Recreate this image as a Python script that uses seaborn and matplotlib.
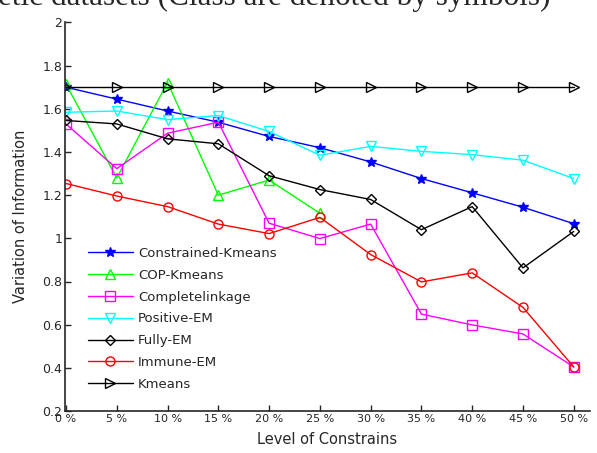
import matplotlib
matplotlib.use("Agg")
import matplotlib.pyplot as plt
import seaborn as sns
import pandas as pd

levels = [0, 5, 10, 15, 20, 25, 30, 35, 40, 45, 50]
x_labels = ["0 %", "5 %", "10 %", "15 %", "20 %", "25 %", "30 %", "35 %", "40 %", "45 %", "50 %"]

constrained_kmeans = [1.70, 1.645, 1.59, 1.538, 1.472, 1.42, 1.354, 1.277, 1.211, 1.144, 1.068]
cop_kmeans = [1.714, 1.28, 1.722, 1.20, 1.27, 1.116]
complete_linkage = [1.53, 1.323, 1.487, 1.538, 1.07, 0.999, 1.066, 0.649, 0.599, 0.557, 0.404]
positive_em = [1.584, 1.59, 1.55, 1.569, 1.495, 1.385, 1.426, 1.403, 1.388, 1.362, 1.277]
fully_em = [1.546, 1.53, 1.461, 1.438, 1.29, 1.226, 1.18, 1.04, 1.147, 0.863, 1.032]
immune_em = [1.254, 1.196, 1.147, 1.066, 1.022, 1.097, 0.925, 0.798, 0.84, 0.68, 0.404]
kmeans = [1.70] * 11

series_names = ["Constrained-Kmeans", "COP-Kmeans", "Completelinkage", "Positive-EM",
                "Fully-EM", "Immune-EM", "Kmeans"]
series_values = [constrained_kmeans, cop_kmeans, complete_linkage, positive_em,
                 fully_em, immune_em, kmeans]
colors = ["#0000ff", "#00ff00", "#ff00ff", "#00ffff", "#000000", "#ff0000", "#000000"]
markers = ["*", "^", "s", "v", "D", "o", ">"]
marker_sizes = [7, 7, 7, 7, 5.5, 6.5, 7]
filled = [True, False, False, False, False, False, False]

y_ticks = [0.2, 0.4, 0.6, 0.8, 1.0, 1.2, 1.4, 1.6, 1.8, 2.0]
y_tick_labels = ["0.2", "0.4", "0.6", "0.8", "1", "1.2", "1.4", "1.6", "1.8", "2"]

sns.set_style("ticks")
plt.rcParams["font.family"] = ["DejaVu Sans"]

fig = plt.figure(figsize=(5.97, 4.53), dpi=100)
ax = fig.add_axes([65 / 597, 1 - 411 / 453, (590 - 65) / 597, (411 - 22.5) / 453])

for name, vals, c, m, ms, f in zip(series_names, series_values, colors, markers, marker_sizes, filled):
    df = pd.DataFrame({"level": levels[:len(vals)], "value": vals})
    sns.lineplot(data=df, x="level", y="value", ax=ax, color=c, marker=m,
                 markersize=ms, markeredgecolor=c,
                 markerfacecolor=(c if f else "none"), markeredgewidth=1.0,
                 linewidth=1.0, label=name)

ax.set_xlim(-0.1, 51.6)
ax.set_ylim(0.2, 2.0)
ax.set_xticks(levels)
ax.set_xticklabels(x_labels, fontsize=8)
ax.set_yticks(y_ticks)
ax.set_yticklabels(y_tick_labels, fontsize=9)
ax.tick_params(direction="in", length=4, width=1, pad=2)
for s in ["top", "right"]:
    ax.spines[s].set_visible(False)
for s in ["left", "bottom"]:
    ax.spines[s].set_linewidth(1.2)
ax.set_xlabel("Level of Constrains", fontsize=10.5, labelpad=6)
ax.set_ylabel("Variation of Information", fontsize=10.5, labelpad=10)

leg = ax.legend(loc="upper left", bbox_to_anchor=(76 / 597, 1 - 235 / 453),
                bbox_transform=fig.transFigure, frameon=False, fontsize=9.5,
                handlelength=3.4, labelspacing=0.67, handletextpad=0.4)

fig.text(-2 / 597, 1 - 5 / 453, "etic datasets (Class are denoted by symbols)",
         family="Liberation Serif", fontsize=22.5, va="baseline", ha="left")

fig.savefig("out.png", dpi=100)
